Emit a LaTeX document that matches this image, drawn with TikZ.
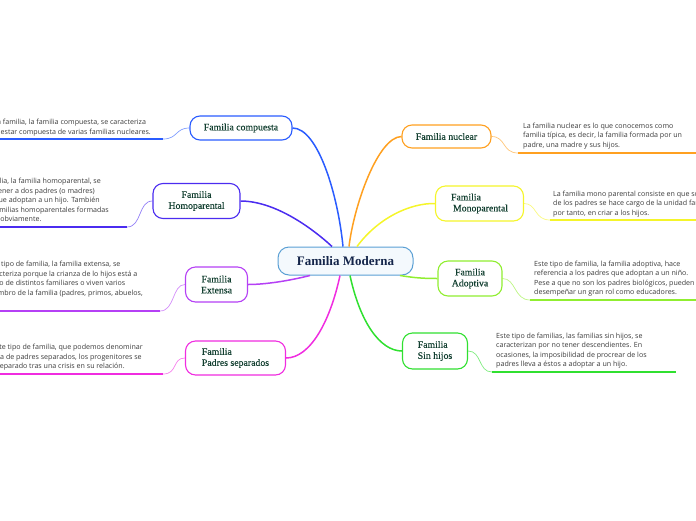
\documentclass[tikz,border=0pt]{standalone}
\usepackage{fontspec}
\setmainfont{Open Sans}
\newfontfamily\nodefont[FakeBold=0.35]{Liberation Serif}
\newfontfamily\rootfont{Liberation Serif}
\definecolor{croot}{HTML}{5A9FD4}
\definecolor{crootfill}{HTML}{F4F9FD}
\definecolor{croottext}{HTML}{14254A}
\definecolor{nodetext}{HTML}{123F30}
\definecolor{desctext}{HTML}{3A3A3A}
\definecolor{ccomp}{HTML}{2A5CFF}
\definecolor{chomo}{HTML}{4B2CF0}
\definecolor{cext}{HTML}{B540F5}
\definecolor{csep}{HTML}{F02CE0}
\definecolor{cnuc}{HTML}{FFA020}
\definecolor{cmono}{HTML}{F5F52A}
\definecolor{cadop}{HTML}{90EE30}
\definecolor{csin}{HTML}{30E030}
\tikzset{
  sub/.style={draw, rounded corners=10pt, line width=1.1pt, fill=white, inner sep=0pt,
    font=\nodefont\fontsize{9.8}{11}\selectfont, text=nodetext},
  desc/.style={inner sep=0pt, anchor=north west, align=left,
    font=\fontsize{7.1}{9.5}\selectfont, text=desctext},
  descl/.style={desc, anchor=north east},
  branch/.style={line width=1.5pt},
  uline/.style={line width=1.4pt},
  scurve/.style={line width=0.7pt, opacity=0.6},
}
\begin{document}
\begin{tikzpicture}[x=1pt,y=-1pt]
\useasboundingbox (0,0) rectangle (696,520);
% root
\node[draw=croot, fill=crootfill, rounded corners=11pt, line width=1pt, inner sep=0pt,
  minimum width=135pt, minimum height=28pt, font=\rootfont\bfseries\fontsize{13}{15}\selectfont,
  text=croottext] (root) at (345.5,261) {Familia Moderna};
% sub nodes
\node[sub, draw=ccomp, minimum width=102pt, minimum height=24pt] (comp) at (241,128) {Familia compuesta};
\node[sub, draw=chomo, minimum width=87pt, minimum height=35pt, align=center] (homo) at (196.5,201) {Familia\\Homoparental};
\node[sub, draw=cext, minimum width=62pt, minimum height=35pt, align=center] (ext) at (216.5,284.5) {Familia\\Extensa};
\node[sub, draw=csep, minimum width=100pt, minimum height=34pt, align=left] (sep) at (235.5,358) {Familia\\Padres separados};
\node[sub, draw=cnuc, minimum width=89pt, minimum height=23pt] (nuc) at (446.5,136.5) {Familia nuclear};
\node[sub, draw=cmono, minimum width=88pt, minimum height=35pt, align=left] (mono) at (479.5,203.5) {Familia\\\hspace{2pt}Monoparental};
\node[sub, draw=cadop, minimum width=64pt, minimum height=35pt, align=center] (adop) at (470,278.5) {Familia\\Adoptiva};
\node[sub, draw=csin, minimum width=65pt, minimum height=36pt, align=left] (sin) at (435,351) {Familia\\Sin hijos};
% main branches
\draw[branch, ccomp] ([xshift=-2.5pt]root.north) .. controls (338,195) and (318,128) .. (comp.east);
\draw[branch, chomo] ([xshift=-13.5pt]root.north) .. controls (312,228) and (275,201) .. (homo.east);
\draw[branch, cnuc] ([xshift=3.5pt]root.north) .. controls (354,205) and (378,137) .. (nuc.west);
\draw[branch, cmono] ([xshift=11.5pt]root.north) .. controls (378,218) and (410,203) .. (mono.west);
\draw[branch, cext] ([xshift=-35.5pt]root.south) .. controls (288,281) and (265,284.5) .. (ext.east);
\draw[branch, csep] ([xshift=-5.5pt]root.south) .. controls (330,322) and (310,358) .. (sep.east);
\draw[branch, csin] ([xshift=4.5pt]root.south) .. controls (360,322) and (380,351) .. (sin.west);
\draw[branch, cadop] ([xshift=54.5pt]root.south) .. controls (415,278) and (425,278.5) .. (adop.west);
% descriptions left
\node[descl] (dcomp) at (151,119) {Esta familia, la familia compuesta, se caracteriza\\por estar compuesta de varias familias nucleares.};
\coordinate (ucompL) at (-20,139);
\coordinate (ucompR) at (163,139);
\draw[uline, ccomp] (ucompL) -- (ucompR);
\draw[scurve, ccomp] (ucompR) .. controls (178,139) and (175,128) .. (comp.west);

\node[descl] (dhomo) at (109,178) {Este tipo de familia, la familia homoparental, se\\caracteriza por tener a dos padres (o madres)\\homosexuales que adoptan a un hijo. También\\pueden haber familias homoparentales formadas\\por dos madres, obviamente.};
\coordinate (uhomoL) at (-60,227);
\coordinate (uhomoR) at (127,227);
\draw[uline, chomo] (uhomoL) -- (uhomoR);
\draw[scurve, chomo] (uhomoR) .. controls (142,227) and (138,201) .. (homo.west);

\node[descl] (dext) at (143,261) {Este tipo de familia, la familia extensa, se\\caracteriza porque la crianza de lo hijos está a\\cargo de distintos familiares o viven varios\\miembro de la familia (padres, primos, abuelos,\\etc.)};
\coordinate (uextL) at (-30,311);
\coordinate (uextR) at (160,311);
\draw[uline, cext] (uextL) -- (uextR);
\draw[scurve, cext] (uextR) .. controls (175,311) and (172,284.5) .. (ext.west);

\node[descl] (dsep) at (143,344) {En este tipo de familia, que podemos denominar\\familia de padres separados, los progenitores se\\han separado tras una crisis en su relación.};
\coordinate (usepL) at (-30,374);
\coordinate (usepR) at (163,374);
\draw[uline, csep] (usepL) -- (usepR);
\draw[scurve, csep] (usepR) .. controls (178,374) and (172,358) .. (sep.west);
% descriptions right
\node[desc] (dnuc) at (523,122.5) {La familia nuclear es lo que conocemos como\\familia típica, es decir, la familia formada por un\\padre, una madre y sus hijos.};
\coordinate (unucL) at (518,153);
\coordinate (unucR) at (700,153);
\draw[uline, cnuc] (unucL) -- (unucR);
\draw[scurve, cnuc] (nuc.east) .. controls (506,136.5) and (502,153) .. (unucL);

\node[desc] (dmono) at (553,190.5) {La familia mono parental consiste en que solo uno\\de los padres se hace cargo de la unidad familiar y,\\por tanto, en criar a los hijos.};
\coordinate (umonoL) at (550,220);
\coordinate (umonoR) at (700,220);
\draw[uline, cmono] (umonoL) -- (umonoR);
\draw[scurve, cmono] (mono.east) .. controls (537,203.5) and (534,220) .. (umonoL);

\node[desc] (dadop) at (534,260.5) {Este tipo de familia, la familia adoptiva, hace\\referencia a los padres que adoptan a un niño.\\Pese a que no son los padres biológicos, pueden\\desempeñar un gran rol como educadores.};
\coordinate (uadopL) at (530,300);
\coordinate (uadopR) at (700,300);
\draw[uline, cadop] (uadopL) -- (uadopR);
\draw[scurve, cadop] (adop.east) .. controls (516,278.5) and (514,300) .. (uadopL);

\node[desc] (dsin) at (496,332.5) {Este tipo de familias, las familias sin hijos, se\\caracterizan por no tener descendientes. En\\ocasiones, la imposibilidad de procrear de los\\padres lleva a éstos a adoptar a un hijo.};
\coordinate (usinL) at (492,372);
\coordinate (usinR) at (676,372);
\draw[uline, csin] (usinL) -- (usinR);
\draw[scurve, csin] (sin.east) .. controls (482,351) and (478,372) .. (usinL);
\end{tikzpicture}
\end{document}
